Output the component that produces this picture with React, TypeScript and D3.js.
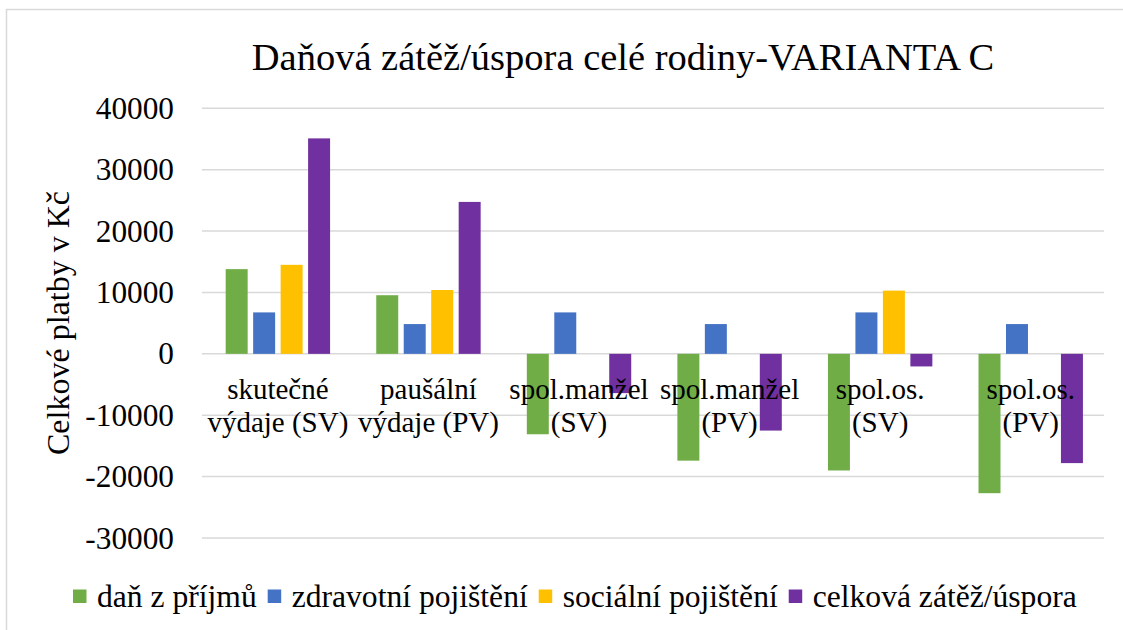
import React, { useEffect, useRef } from "react";
import * as d3 from "d3";

const categories: string[][] = [
  ["skutečné", "výdaje (SV)"],
  ["paušální", "výdaje (PV)"],
  ["spol.manžel", "(SV)"],
  ["spol.manžel", "(PV)"],
  ["spol.os.", "(SV)"],
  ["spol.os.", "(PV)"],
];
const seriesNames = ["daň z příjmů", "zdravotní pojištění", "sociální pojištění", "celková zátěž/úspora"];
const taxValues = [13800, 9550, -13100, -17400, -19000, -22700];
const healthValues = [6750, 4850, 6750, 4850, 6750, 4850];
const socialValues = [14500, 10400, 0, 0, 10300, 0];
const totalValues = [35100, 24750, -6400, -12500, -2050, -17800];
const yTicks = [-30000, -20000, -10000, 0, 10000, 20000, 30000, 40000];
const colors = ["#70AD47", "#4472C4", "#FFC000", "#7030A0"];

const W = 1123;
const H = 630;
const FONT = "'Liberation Serif', 'Times New Roman', serif";

export default function App() {
  const legendRef = useRef<SVGGElement>(null);
  const series = [taxValues, healthValues, socialValues, totalValues];

  const x0 = d3.scaleBand<number>().domain(d3.range(categories.length)).range([202.6, 1106]).paddingInner(0).paddingOuter(0);
  const x1 = d3.scaleBand<number>().domain(d3.range(series.length)).range([0, x0.bandwidth()]).paddingInner(0.2).paddingOuter(0.84);
  const y = d3.scaleLinear().domain([-30000, 40000]).range([538, 108.3]);

  useEffect(() => {
    const g = d3.select(legendRef.current);
    g.selectAll("*").remove();
    let cx = 73;
    seriesNames.forEach((name, i) => {
      g.append("rect").attr("x", cx).attr("y", 589.5).attr("width", 13.5).attr("height", 13.5).attr("fill", colors[i]);
      cx += 24;
      const t = g
        .append("text")
        .attr("x", cx)
        .attr("y", 607)
        .attr("font-family", FONT)
        .attr("font-size", 31.6)
        .attr("fill", "#000")
        .text(name);
      const w = (t.node() as SVGTextElement).getComputedTextLength();
      cx += w + 11;
    });
  }, []);

  return (
    <svg width={W} height={H} style={{ position: "absolute", left: 0, top: 0, background: "#fff" }} fontFamily={FONT}>
      <rect x={0} y={0} width={W} height={H} fill="#fff" />
      <rect x={6.5} y={9.5} width={1300} height={800} fill="none" stroke="#d9d9d9" strokeWidth={1.5} />
      <text x={623} y={70} textAnchor="middle" fontSize={38.5} fill="#000">
        Daňová zátěž/úspora celé rodiny-VARIANTA C
      </text>
      {yTicks.map((t) => (
        <g key={t}>
          <line x1={202} x2={1104} y1={y(t)} y2={y(t)} stroke="#d9d9d9" strokeWidth={1.5} />
          <text x={174} y={y(t)} dy="0.34em" textAnchor="end" fontSize={31.3} fill="#000">
            {t}
          </text>
        </g>
      ))}
      <text transform={`translate(69,323) rotate(-90)`} textAnchor="middle" fontSize={32} fill="#000">
        Celkové platby v Kč
      </text>
      {series.map((vals, si) =>
        vals.map((v, ci) => {
          const bx = (x0(ci) as number) + (x1(si) as number);
          return (
            <rect
              key={`${si}-${ci}`}
              x={bx}
              y={Math.min(y(v), y(0))}
              width={x1.bandwidth()}
              height={Math.abs(y(v) - y(0))}
              fill={colors[si]}
            />
          );
        })
      )}
      {categories.map((lines, ci) => (
        <text key={ci} textAnchor="middle" fontSize={29} fill="#000">
          {lines.map((l, li) => (
            <tspan key={li} x={(x0(ci) as number) + x0.bandwidth() / 2} y={399 + li * 33}>
              {l}
            </tspan>
          ))}
        </text>
      ))}
      <g ref={legendRef} />
    </svg>
  );
}
